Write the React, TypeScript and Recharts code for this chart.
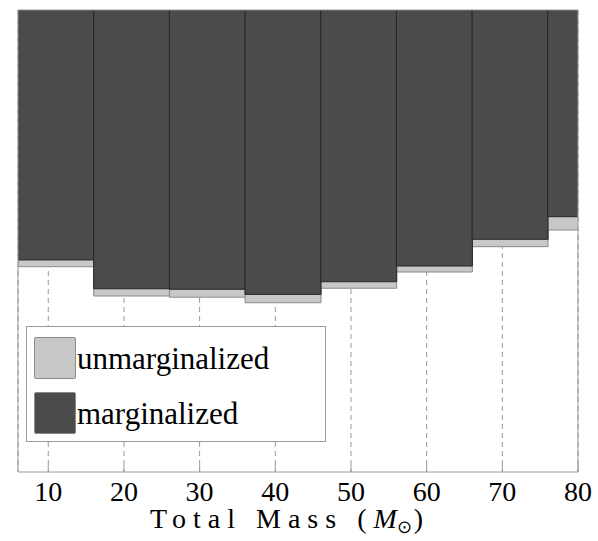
import { Bar, BarChart, CartesianGrid, Legend, XAxis, YAxis } from 'recharts'

// histogram bins (total mass, solar masses) - last bin runs past the axis end
const binCenters = [11, 21, 31, 41, 51, 61, 71, 81]
const unmarginalized = [0.599, 0.334, 0.326, 0.292, 0.39, 0.539, 0.893, 1.245]
const marginalized = [0.685, 0.386, 0.382, 0.345, 0.444, 0.607, 1.034, 1.623]

const legendOrder = ['unmarginalized', 'marginalized']
const xTicks = [10, 20, 30, 40, 50, 60, 70, 80]
const yTicks = [
  0.01, 0.02, 0.03, 0.04, 0.05, 0.06, 0.07, 0.08, 0.09,
  0.1, 0.2, 0.3, 0.4, 0.5, 0.6, 0.7, 0.8, 0.9,
  1, 2, 3, 4, 5, 6, 7, 8, 9,
  10, 20, 30, 40, 50, 60, 70, 80, 90, 100,
]
const yGrid = [0.1, 1, 10]
const X_MIN = 6
const X_MAX = 80
const Y_MIN = 0.01
const Y_MAX = 100

const data = binCenters.map((center, i) => ({
  center,
  unmarginalized: unmarginalized[i],
  marginalized: marginalized[i],
}))

const LIGHT = '#c8c8c8'
const DARK = '#4b4b4b'
const FRAME = '#9a9a9a'
const SERIF = "'Liberation Serif', serif"

function XTitle({ viewBox }: any) {
  const cx = viewBox.x + viewBox.width / 2 - 8
  const y = viewBox.y + 56
  return (
    <text x={cx} y={y} textAnchor="middle" style={{ fontFamily: SERIF }} fontSize={28} fill="#000" letterSpacing={7}>
      Total Mass (
      <tspan fontStyle="italic" letterSpacing={0}>M</tspan>
      <tspan fontSize={18} dy={5} letterSpacing={2}>⊙</tspan>
      <tspan dy={-5}>)</tspan>
    </text>
  )
}

function LegendBox({ payload }: any) {
  const items = [...(payload || [])].sort(
    (a: any, b: any) => legendOrder.indexOf(a.value) - legendOrder.indexOf(b.value),
  )
  return (
    <div
      style={{
        width: 298,
        height: 105,
        border: `1px solid ${FRAME}`,
        background: '#fff',
        boxSizing: 'content-box',
        paddingTop: 9,
      }}
    >
      {items.map((p: any) => (
        <div key={p.value} style={{ display: 'flex', alignItems: 'center', height: 55 }}>
          <div
            style={{
              width: 40,
              height: 40,
              marginLeft: 7,
              marginTop: -12,
              background: p.color,
              border: '1px solid #8a8a8a',
              borderRadius: 2,
            }}
          />
          <span
            style={{
              fontFamily: SERIF,
              fontSize: 31,
              color: '#000',
              marginLeft: 1,
              marginTop: -10,
              lineHeight: '41px',
            }}
          >
            {p.value}
          </span>
        </div>
      ))}
    </div>
  )
}

export default function App() {
  return (
    <div style={{ position: 'absolute', left: 0, top: 0, width: 598, height: 541, background: '#fff' }}>
      <BarChart
        width={598}
        height={541}
        data={data}
        margin={{ top: 9, right: 19, bottom: 0, left: 17 }}
        barCategoryGap={0}
        barGap={0}
      >
        <CartesianGrid
          xAxisId="main"
          yAxisId="left"
          stroke={FRAME}
          strokeDasharray="5 4"
          horizontalValues={yGrid}
        />
        <XAxis
          xAxisId="main"
          dataKey="center"
          type="number"
          domain={[X_MIN, X_MAX]}
          allowDataOverflow
          ticks={xTicks}
          height={69}
          stroke={FRAME}
          tickSize={-7}
          tickMargin={16}
          tick={{ fontSize: 28, fill: '#000', style: { fontFamily: SERIF } }}
          label={{ content: (props: any) => <XTitle {...props} /> }}
        />
        <YAxis
          yAxisId="left"
          scale="log"
          type="number"
          domain={[Y_MIN, Y_MAX]}
          allowDataOverflow
          ticks={yTicks}
          width={1}
          stroke={FRAME}
          tickSize={-5}
          tick={false}
        />
        <YAxis
          yAxisId="right"
          orientation="right"
          scale="log"
          type="number"
          domain={[Y_MIN, Y_MAX]}
          allowDataOverflow
          ticks={yTicks}
          width={1}
          stroke={FRAME}
          tickSize={-5}
          tick={false}
        />
        <Bar
          xAxisId="top"
          yAxisId="left"
          name="unmarginalized"
          dataKey={(d: any) => [d.unmarginalized, Y_MAX]}
          fill={LIGHT}
          stroke="#8c8c8c"
          strokeWidth={1}
          isAnimationActive={false}
        />
        <Bar
          xAxisId="main"
          yAxisId="left"
          name="marginalized"
          dataKey={(d: any) => [d.marginalized, Y_MAX]}
          fill={DARK}
          stroke="#262626"
          strokeWidth={1}
          isAnimationActive={false}
        />
        <XAxis
          xAxisId="top"
          orientation="top"
          dataKey="center"
          type="number"
          domain={[X_MIN, X_MAX]}
          allowDataOverflow
          ticks={xTicks}
          height={1}
          stroke={FRAME}
          tickLine={false}
          tick={false}
        />
        <Legend
          layout="horizontal"
          verticalAlign="middle"
          align="center"
          content={(props: any) => <LegendBox {...props} />}
          wrapperStyle={{ position: 'absolute', left: 26, top: 326, width: 300, height: 'auto' }}
        />
      </BarChart>
    </div>
  )
}
